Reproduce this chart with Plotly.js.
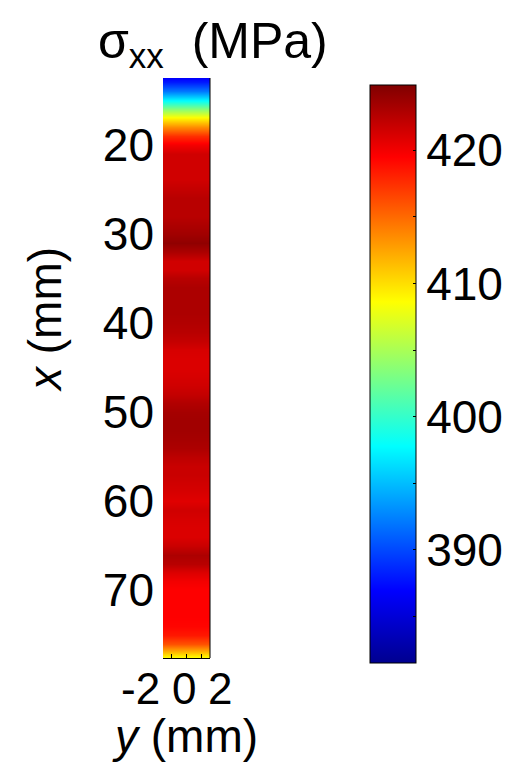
<!DOCTYPE html>
<html>
<head>
<meta charset="utf-8">
<script src="https://cdn.plot.ly/plotly-3.0.1.min.js"></script>
<style>
html,body{margin:0;padding:0;background:#fff;}
#chart{width:529px;height:779px;}
</style>
</head>
<body>
<div id="chart"></div>
<script>
// position along the bar, x (mm): one row per value
var xRows = [12,13,14,15,16,17,18,19,20,21,22,23,24,25,26,27,28,29,30,31,32,33,34,35,36,37,38,39,40,
  41,42,43,44,45,46,47,48,49,50,51,52,53,54,55,56,57,58,59,60,61,62,63,64,65,66,67,68,69,70,
  71,72,73,74,75,76,77,78];
// sigma_xx (MPa) along x
var sigmaProfile = [385.5,388,392,397.5,403.5,409,413.5,417.5,420,421.5,421.5,421.5,421.5,422,422.5,422.5,422.5,423,423.5,424.2,
  423,421.5,421.5,422.5,423,423,423,423,422.8,422.5,422,421.2,421,421,421.2,421.5,422,422.8,423.3,423.5,
  423.5,423.3,423,422.3,421.8,421.8,421.5,421.2,420.8,421.5,421.2,421,421,421.8,423,422.5,421,420,419.5,419.5,
  419.5,419.5,419.3,418.5,416,411,406];
// transverse position y (mm)
var yCols = [-3,-2,-1,0,1,2,3];
// tick labels
var xTickVals = [-2,0,2];
var xTickText = ['-2','0','2'];
var yTickVals = [20,30,40,50,60,70];
var yTickText = ['20','30','40','50','60','70'];
var cbTickVals = [385,390,395,400,405,410,415,420];
var cbTickText = ['','390','','400','','410','','420'];

var z = xRows.map(function(_, i){ return yCols.map(function(){ return sigmaProfile[i]; }); });

var jet = [
  [0,'rgb(0,0,143)'],
  [0.125,'rgb(0,0,255)'],
  [0.375,'rgb(0,255,255)'],
  [0.625,'rgb(255,255,0)'],
  [0.875,'rgb(255,0,0)'],
  [1,'rgb(128,0,0)']
];

var FONT = 'Liberation Sans, Arial, Helvetica, sans-serif';

var trace = {
  type: 'heatmap',
  x: yCols,
  y: xRows,
  z: z,
  zmin: 381.5,
  zmax: 424.9,
  zsmooth: 'best',
  colorscale: jet,
  colorbar: {
    xref: 'container', x: 370/529, xanchor: 'left',
    yref: 'paper', y: (658-374)/580, yanchor: 'middle',
    thicknessmode: 'pixels', thickness: 46,
    lenmode: 'pixels', len: 578,
    xpad: 0, ypad: 0,
    outlinecolor: '#000', outlinewidth: 1,
    tickvals: cbTickVals, ticktext: cbTickText,
    ticks: 'inside', ticklen: 3, tickcolor: '#000',
    ticklabelstandoff: 2,
    tickfont: {family: FONT, size: 46, color: '#000'}
  }
};

var pxLabel = [140, 184, 220];
var annotations = xTickText.map(function(t, i){
  return {xref:'paper', yref:'paper', x:(pxLabel[i]-163)/47, y:(658-688)/580,
    xanchor:'center', yanchor:'middle', showarrow:false, text:t, borderpad:0,
    font:{family:FONT, size:44, color:'#000'}};
});
annotations.push({xref:'paper', yref:'paper', x:(45-163)/47, y:(658-320)/580,
  xanchor:'center', yanchor:'middle', showarrow:false, textangle:-90,
  text:'<i>x</i> (mm)', font:{family:FONT, size:46, color:'#000'}});

var layout = {
  width: 529, height: 779,
  margin: {l:163, r:319, t:78, b:121, pad:0},
  paper_bgcolor: '#fff', plot_bgcolor: '#fff',
  showlegend: false,
  title: {
    text: 'σ<sub>xx</sub>  (MPa)',
    xref: 'container', x: 98/529, xanchor: 'left',
    yref: 'container', y: 1 - 40/779, yanchor: 'middle',
    font: {family: FONT, size: 50, color: '#000'}
  },
  xaxis: {
    range: [-3.2, 3.1],
    tickvals: xTickVals, ticktext: xTickText,
    showticklabels: false,
    ticks: 'inside', ticklen: 4, tickcolor: '#000',
    showline: true, linecolor: '#000', linewidth: 1, mirror: false,
    showgrid: false, zeroline: false,
    title: {text: '<i>y</i> (mm)', standoff: 61, font: {family: FONT, size: 46, color: '#000'}}
  },
  yaxis: {
    range: [77.6, 12.5],
    tickvals: yTickVals, ticktext: yTickText,
    ticks: '', showline: false, showgrid: false, zeroline: false,
    ticklabelstandoff: 8,
    tickfont: {family: FONT, size: 46, color: '#000'}
  },
  shapes: [{type:'line', xref:'paper', yref:'paper', x0:1, x1:1, y0:0, y1:1,
    line:{color:'#000', width:1}}],
  annotations: annotations
};

Plotly.newPlot('chart', [trace], layout, {displayModeBar:false, staticPlot:true});
</script>
</body>
</html>
